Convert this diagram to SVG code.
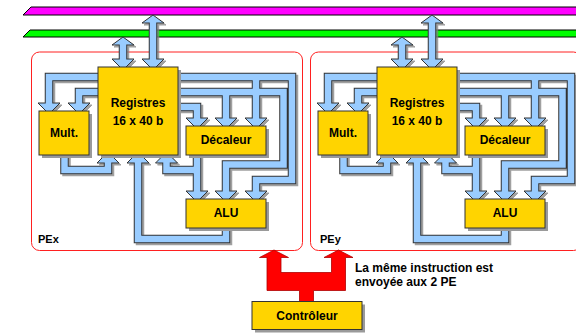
<svg xmlns="http://www.w3.org/2000/svg" width="576" height="333" viewBox="0 0 576 333">
<defs>
<style>
.t{font-family:"Liberation Sans",Arial,sans-serif;font-weight:bold;font-size:12px;fill:#000}
.box{fill:#ffd400;stroke:#333;stroke-width:1}
.shd{fill:#9a9a9a}
.fr{fill:none;stroke:#ff2020;stroke-width:1}
.d{fill:none;stroke:#333;stroke-width:8.5;stroke-linejoin:miter}
.l{fill:none;stroke:#99ccff;stroke-width:6.5;stroke-linejoin:miter}
.h{fill:#99ccff;stroke:#333;stroke-width:1;stroke-linejoin:miter}
</style>
<filter id="sh" x="-5%" y="-5%" width="115%" height="115%">
<feOffset in="SourceAlpha" dx="2" dy="2" result="o"/>
<feFlood flood-color="#808080" flood-opacity="0.75"/>
<feComposite in2="o" operator="in" result="s"/>
<feMerge><feMergeNode in="s"/><feMergeNode in="SourceGraphic"/></feMerge>
</filter>
</defs>
<rect width="576" height="333" fill="#fff"/>
<g id="buses">
<polygon points="23,15 31,7 580,7 580,15" fill="#ff00ff" stroke="#000" stroke-width="1"/>
<polygon points="23,37 30,30 580,30 580,37" fill="#00ff00" stroke="#000" stroke-width="1"/>
</g>
<g id="pex"><rect class="fr" x="31.5" y="52" width="271" height="198.5" rx="8"/><text class="t" x="38" y="243" style="font-size:11px">PEx</text></g>
<g id="pey"><rect class="fr" x="310.5" y="52" width="271" height="198.5" rx="8"/><text class="t" x="320" y="243" style="font-size:11px">PEy</text></g>
<g id="connectors">
<g id="conn-x" filter="url(#sh)">
<g class="d">
<path d="M123 43V61M153 21V61M101 77H49V105M101 92H79V105M175 77H292V180H256V193M256 77V120M175 92H283.5V164.5H226V193M226 92V120M175 107H197V120M197 152V193M197 170H166.5V161M226 225V239H138V161M64.5 152V170H108V161"/>
</g>
<g class="h">
<polygon points="112,45 134,45 123,37"/><polygon points="142,23 164,23 153,15"/>
<polygon points="112,59 134,59 123,70"/><polygon points="142,59 164,59 153,70"/>
<polygon points="38,103 60,103 49,114"/><polygon points="68,103 90,103 79,114"/>
<polygon points="245,118 267,118 256,129"/><polygon points="215,118 237,118 226,129"/><polygon points="186,118 208,118 197,129"/>
<polygon points="186,191 208,191 197,202"/><polygon points="215,191 237,191 226,202"/><polygon points="245,191 267,191 256,202"/>
<polygon points="155.5,163 177.5,163 166.5,152"/><polygon points="127,163 149,163 138,152"/><polygon points="97,163 119,163 108,152"/>
</g>
<g class="l">
<path d="M123 43V61M153 21V61M101 77H49V105M101 92H79V105M175 77H292V180H256V193M256 77V120M175 92H283.5V164.5H226V193M226 92V120M175 107H197V120M197 152V193M197 170H166.5V161M226 225V239H138V161M64.5 152V170H108V161"/>
</g>
</g>
<g id="conn-y" filter="url(#sh)" transform="translate(279,0)">
<g class="d">
<path d="M123 43V61M153 21V61M101 77H49V105M101 92H79V105M175 77H292V180H256V193M256 77V120M175 92H283.5V164.5H226V193M226 92V120M175 107H197V120M197 152V193M197 170H166.5V161M226 225V239H138V161M64.5 152V170H108V161"/>
</g>
<g class="h">
<polygon points="112,45 134,45 123,37"/><polygon points="142,23 164,23 153,15"/>
<polygon points="112,59 134,59 123,70"/><polygon points="142,59 164,59 153,70"/>
<polygon points="38,103 60,103 49,114"/><polygon points="68,103 90,103 79,114"/>
<polygon points="245,118 267,118 256,129"/><polygon points="215,118 237,118 226,129"/><polygon points="186,118 208,118 197,129"/>
<polygon points="186,191 208,191 197,202"/><polygon points="215,191 237,191 226,202"/><polygon points="245,191 267,191 256,202"/>
<polygon points="155.5,163 177.5,163 166.5,152"/><polygon points="127,163 149,163 138,152"/><polygon points="97,163 119,163 108,152"/>
</g>
<g class="l">
<path d="M123 43V61M153 21V61M101 77H49V105M101 92H79V105M175 77H292V180H256V193M256 77V120M175 92H283.5V164.5H226V193M226 92V120M175 107H197V120M197 152V193M197 170H166.5V161M226 225V239H138V161M64.5 152V170H108V161"/>
</g>
</g>
<polygon id="ctrl-fork" points="274,250 288.5,257.5 281,257.5 281,272.5 331.5,272.5 331.5,257.5 324,257.5 338.5,250 353,257.5 345.5,257.5 345.5,290.5 313.5,290.5 313.5,304 299.5,304 299.5,290.5 267,290.5 267,257.5 259.5,257.5" fill="#ff0000" stroke="#b00000" stroke-width="0.8"/>
</g>
<g id="reg-x"><rect class="shd" x="101" y="70" width="80" height="88"/><rect class="box" x="98" y="67" width="80" height="88"/><text class="t" x="138" y="107" text-anchor="middle">Registres</text><text class="t" x="138" y="125" text-anchor="middle">16 x 40 b</text></g>
<g id="mult-x"><rect class="shd" x="42" y="114" width="50" height="44"/><rect class="box" x="39" y="111" width="50" height="44"/><text class="t" x="64" y="137" text-anchor="middle">Mult.</text></g>
<g id="dec-x"><rect class="shd" x="189" y="129" width="80" height="29"/><rect class="box" x="186" y="126" width="80" height="29"/><text class="t" x="226" y="143.5" text-anchor="middle">Décaleur</text></g>
<g id="alu-x"><rect class="shd" x="189" y="202" width="80" height="29"/><rect class="box" x="186" y="199" width="80" height="29"/><text class="t" x="226" y="217" text-anchor="middle">ALU</text></g>
<g id="reg-y"><rect class="shd" x="380" y="70" width="80" height="88"/><rect class="box" x="377" y="67" width="80" height="88"/><text class="t" x="417" y="107" text-anchor="middle">Registres</text><text class="t" x="417" y="125" text-anchor="middle">16 x 40 b</text></g>
<g id="mult-y"><rect class="shd" x="321" y="114" width="50" height="44"/><rect class="box" x="318" y="111" width="50" height="44"/><text class="t" x="343" y="137" text-anchor="middle">Mult.</text></g>
<g id="dec-y"><rect class="shd" x="468" y="129" width="80" height="29"/><rect class="box" x="465" y="126" width="80" height="29"/><text class="t" x="505" y="143.5" text-anchor="middle">Décaleur</text></g>
<g id="alu-y"><rect class="shd" x="468" y="202" width="80" height="29"/><rect class="box" x="465" y="199" width="80" height="29"/><text class="t" x="505" y="217" text-anchor="middle">ALU</text></g>
<g id="ctrl"><rect class="shd" x="255" y="304.5" width="110" height="28"/><rect class="box" x="252" y="301.5" width="110" height="28"/><text class="t" x="307" y="320" text-anchor="middle">Contrôleur</text></g>
<g id="note"><text class="t" x="355" y="271.5">La même instruction est</text><text class="t" x="355" y="286">envoyée aux 2 PE</text></g>
</svg>
